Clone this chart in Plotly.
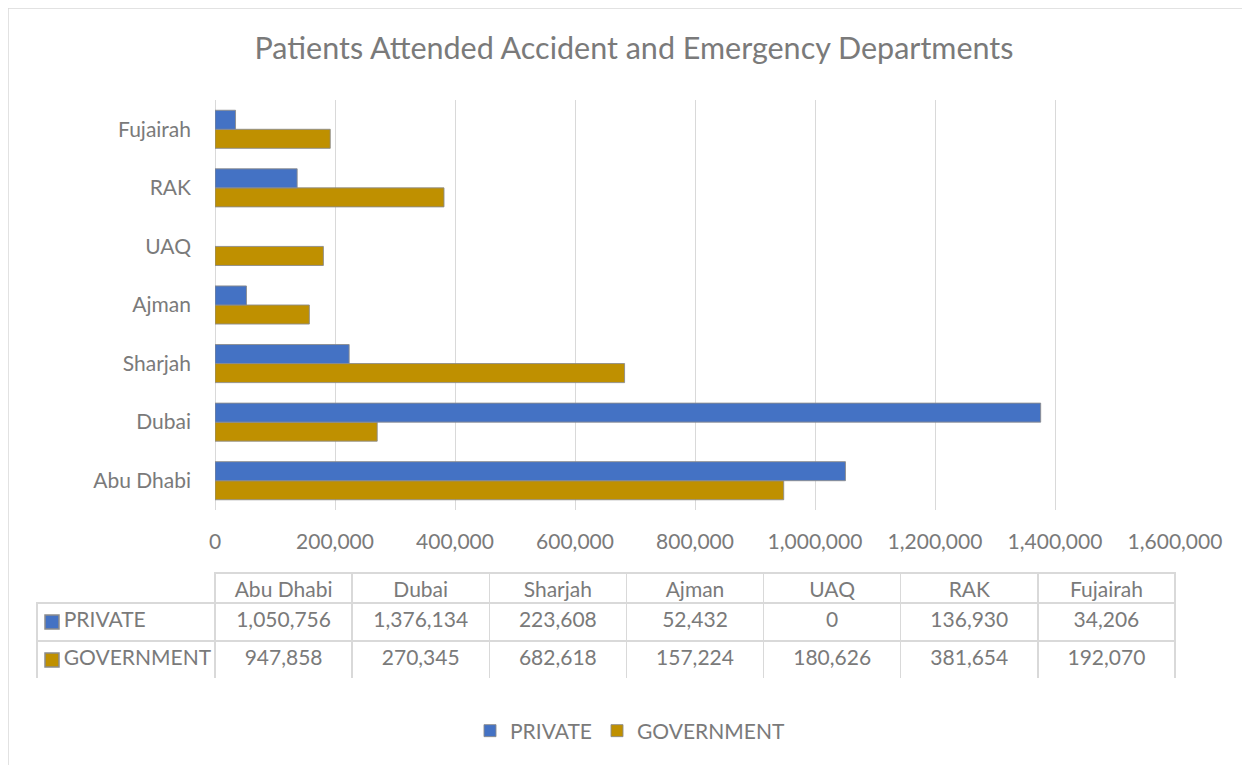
import plotly.graph_objects as go

categories = ["Abu Dhabi", "Dubai", "Sharjah", "Ajman", "UAQ", "RAK", "Fujairah"]
private = [1050756, 1376134, 223608, 52432, 0, 136930, 34206]
government = [947858, 270345, 682618, 157224, 180626, 381654, 192070]
series_names = ["PRIVATE", "GOVERNMENT"]
x_ticks = [0, 200000, 400000, 600000, 800000, 1000000, 1200000, 1400000, 1600000]
title_text = "Patients Attended Accident and Emergency Departments"

W, H = 1250, 765
OFF = 8  # page body margin offset
BLUE = "#4472C4"
GOLD = "#BF9000"
TXT = "#7a7a7a"
GRID = "#d9d9d9"
EDGE = "rgba(140,140,140,0.9)"
FONT = "Lato"
FS = 21


def px(x):
    return (x - OFF) / W


def py(y):
    return 1 - (y - OFF) / H


# layout geometry in screen pixels
x0, x1 = 215, 1175
y_top, y_bot = 100, 510
tbl_left, tbl_top, tbl_bot = 37, 573, 679
hdr_h, row_h = 30, 38

fig = go.Figure()
fig.add_trace(go.Bar(y=categories, x=government, orientation="h", name=series_names[1],
                     marker=dict(color=GOLD, line=dict(color=EDGE, width=[0 if v == 0 else 1 for v in government])),
                     legendrank=2))
fig.add_trace(go.Bar(y=categories, x=private, orientation="h", name=series_names[0],
                     marker=dict(color=BLUE, line=dict(color=EDGE, width=[0 if v == 0 else 1 for v in private])),
                     legendrank=1))


def fmt(v):
    return f"{v:,}"


pad = "\u00a0" * 3 + "\u2009"
fig.add_trace(go.Table(
    domain=dict(x=[px(tbl_left), px(x1)], y=[py(tbl_bot), py(tbl_top)]),
    columnwidth=[x0 - tbl_left] + [(x1 - x0) / 7] * 7,
    header=dict(values=[""] + categories, height=hdr_h,
                fill_color=["rgba(0,0,0,0)"] + ["white"] * 7,
                line=dict(color=["rgba(0,0,0,0)"] + [GRID] * 7, width=1.5),
                font=dict(family=FONT, size=FS, color=TXT), align="center"),
    cells=dict(values=[[pad + s for s in series_names]]
                      + [[fmt(p), fmt(g)] for p, g in zip(private, government)],
               height=row_h, fill_color="white",
               line=dict(color=GRID, width=1.5),
               font=dict(family=FONT, size=FS, color=TXT),
               align=["left"] + ["center"] * 7),
))

shapes = [dict(type="rect", xref="paper", yref="paper", x0=px(8), x1=1.02,
               y0=-0.02, y1=py(8), line=dict(color=GRID, width=1.5))]
# legend keys inside the data table
key = 14
for i, c in enumerate([BLUE, GOLD]):
    yc = tbl_top + hdr_h + row_h * (i + 0.5)
    shapes.append(dict(type="rect", xref="paper", yref="paper",
                       x0=px(tbl_left + 8), x1=px(tbl_left + 8 + key),
                       y0=py(yc + key / 2), y1=py(yc - key / 2),
                       fillcolor=c, line=dict(color="#8c8c8c", width=1.5)))

fig.update_layout(
    width=W, height=H,
    margin=dict(l=0, r=0, t=0, b=0, autoexpand=False),
    paper_bgcolor="white", plot_bgcolor="white",
    barmode="group", bargap=0.35, bargroupgap=0,
    font=dict(family=FONT, color=TXT, size=FS),
    title=dict(text=title_text, x=px(634), xref="paper", xanchor="center", y=py(48),
               yref="paper", yanchor="middle", automargin=False,
               font=dict(family=FONT, size=30.5, color=TXT)),
    xaxis=dict(domain=[px(x0), px(x1)], range=[0, 1600000], tickvals=x_ticks,
               tickformat=",d", showgrid=True, gridcolor=GRID, gridwidth=1,
               zeroline=True, zerolinecolor=GRID, zerolinewidth=1, automargin=False,
               showline=False, ticks="", ticklabelstandoff=17,
               tickfont=dict(family=FONT, size=FS, color=TXT), fixedrange=True),
    yaxis=dict(domain=[py(y_bot), py(y_top)], categoryorder="array",
               categoryarray=categories, showgrid=False, showline=False, ticks="",
               automargin=False, ticklabelstandoff=23,
               tickfont=dict(family=FONT, size=FS, color=TXT), fixedrange=True),
    showlegend=True,
    legend=dict(orientation="h", x=px(630), xanchor="center", y=py(731), yanchor="middle",
                font=dict(family=FONT, size=FS, color=TXT), itemwidth=30,
                traceorder="normal"),
    shapes=shapes,
)

fig.write_html("out.html")
